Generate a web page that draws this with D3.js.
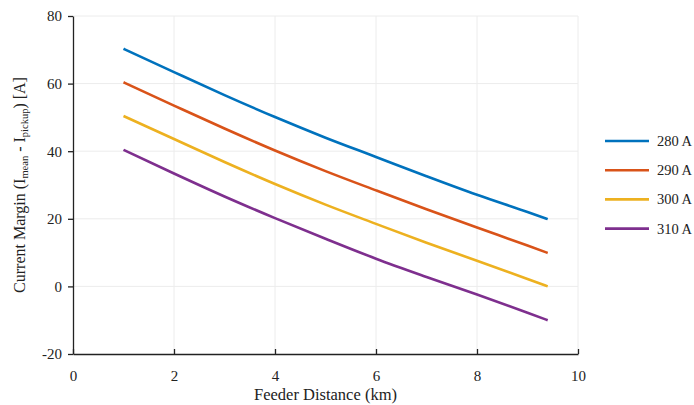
<!DOCTYPE html>
<html>
<head>
<meta charset="utf-8">
<script src="https://cdn.jsdelivr.net/npm/d3@7"></script>
<style>
  body { margin: 0; background: #fff; }
  text { font-family: "Liberation Serif", "Times New Roman", serif; fill: #222; }
</style>
</head>
<body>
<script>
// distances (km)
var distance = [1, 2, 3, 4, 5, 6, 7, 8, 9, 9.4];
// current margin per pickup setting
var m280 = [70.3, 63.4, 56.6, 50.1, 44.0, 38.3, 32.6, 27.1, 22.0, 19.9];
var m290 = [60.4, 53.5, 46.7, 40.2, 34.1, 28.4, 22.8, 17.4, 12.1, 9.9];
var m300 = [50.4, 43.6, 36.8, 30.3, 24.2, 18.5, 12.9, 7.6, 2.2, 0.0];
var m310 = [40.4, 33.4, 26.6, 20.2, 14.1, 8.2, 2.8, -2.4, -7.8, -10.0];
var seriesNames = ["280 A", "290 A", "300 A", "310 A"];
var colors = ["#0072BD", "#D95319", "#EDB120", "#7E2F8E"];
var xTicks = [0, 2, 4, 6, 8, 10];
var yTicks = [-20, 0, 20, 40, 60, 80];

var series = [m280, m290, m300, m310].map(function(vals, i) {
    return {
        name: seriesNames[i],
        color: colors[i],
        values: vals.map(function(v, j) { return {x: distance[j], y: v}; })
    };
});

var svgW = 694, svgH = 405;
var margin = {top: 16, right: 116, bottom: 51, left: 73},
    width = svgW - margin.left - margin.right,
    height = svgH - margin.top - margin.bottom;

var svg = d3.select("body").append("svg")
    .attr("width", svgW)
    .attr("height", svgH);

var g = svg.append("g")
    .attr("transform", "translate(" + margin.left + "," + margin.top + ")");

var x = d3.scaleLinear().domain([0, 10]).range([0, width]);
var y = d3.scaleLinear().domain([-20, 80]).range([height, 0]);

// gridlines
g.append("g").selectAll("line")
    .data(xTicks.slice(1))
    .enter().append("line")
    .attr("x1", function(d) { return x(d); })
    .attr("x2", function(d) { return x(d); })
    .attr("y1", 0).attr("y2", height)
    .attr("stroke", "#ececec").attr("stroke-width", 1);

g.append("g").selectAll("line")
    .data(yTicks.slice(1))
    .enter().append("line")
    .attr("x1", 0).attr("x2", width)
    .attr("y1", function(d) { return y(d); })
    .attr("y2", function(d) { return y(d); })
    .attr("stroke", "#ececec").attr("stroke-width", 1);

// lines
var line = d3.line()
    .curve(d3.curveMonotoneX)
    .x(function(d) { return x(d.x); })
    .y(function(d) { return y(d.y); });

g.selectAll("path.series")
    .data(series)
    .enter().append("path")
    .attr("class", "series")
    .attr("d", function(d) { return line(d.values); })
    .attr("fill", "none")
    .attr("stroke", function(d) { return d.color; })
    .attr("stroke-width", 2.6);

// axes (plain hyphen minus like the original)
var fmt = function(d) { return String(d); };

var xAxis = g.append("g")
    .attr("transform", "translate(0," + height + ")")
    .call(d3.axisBottom(x).tickValues(xTicks).tickFormat(fmt)
        .tickSize(-5).tickPadding(16).tickSizeOuter(0));
xAxis.selectAll("text").attr("font-size", 15).attr("fill", "#222")
    .attr("font-family", "Liberation Serif");

var yAxis = g.append("g")
    .call(d3.axisLeft(y).tickValues(yTicks).tickFormat(fmt)
        .tickSize(5).tickPadding(6).tickSizeOuter(0));
yAxis.selectAll("text").attr("font-size", 15).attr("fill", "#222")
    .attr("font-family", "Liberation Serif");

svg.selectAll(".domain").attr("stroke", "#222").attr("stroke-width", 1.3);
svg.selectAll(".tick line").attr("stroke", "#222").attr("stroke-width", 1.3);

// axis titles
svg.append("text")
    .attr("x", margin.left + x(5))
    .attr("y", 400)
    .attr("text-anchor", "middle")
    .attr("font-size", 16.5)
    .text("Feeder Distance (km)");

var yl = svg.append("text")
    .attr("transform", "translate(25," + (margin.top + height / 2) + ") rotate(-90)")
    .attr("text-anchor", "middle")
    .attr("font-size", 16);
yl.append("tspan").text("Current Margin (I");
yl.append("tspan").attr("font-size", 10.5).attr("dy", 3).text("mean");
yl.append("tspan").attr("dy", -3).text(" - I");
yl.append("tspan").attr("font-size", 10.5).attr("dy", 3).text("pickup");
yl.append("tspan").attr("dy", -3).text(") [A]");

// legend
var legend = svg.append("g")
    .attr("transform", "translate(605,141)");
var items = legend.selectAll("g")
    .data(series)
    .enter().append("g")
    .attr("transform", function(d, i) { return "translate(0," + (i * 29.2) + ")"; });
items.append("line")
    .attr("x1", 0).attr("x2", 44)
    .attr("stroke", function(d) { return d.color; })
    .attr("stroke-width", 2.6);
items.append("text")
    .attr("x", 52)
    .attr("y", 5)
    .attr("font-size", 14.5)
    .text(function(d) { return d.name; });
</script>
</body>
</html>
